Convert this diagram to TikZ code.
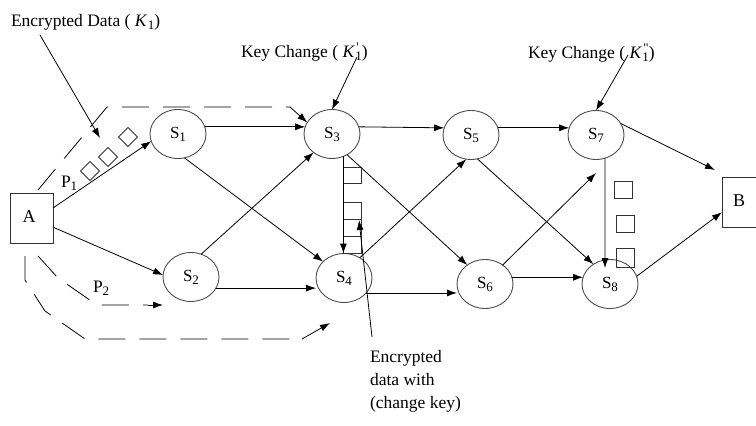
\documentclass[tikz,border=0pt]{standalone}
\usepackage{fontspec}
\setmainfont{Liberation Serif}
\usetikzlibrary{shapes.geometric,arrows.meta,calc}
\newcommand\subnum[1]{\raisebox{-0.4ex}{\fontsize{13}{13}\selectfont #1}}
\newcommand\Kone[1]{\textit{K}\kern0.5pt\raisebox{-0.4ex}{\fontsize{13}{13}\selectfont\rlap{\raisebox{1.45ex}{\kern1pt #1}}1}}
\begin{document}
\begin{tikzpicture}[x=1pt,y=-1pt,
  every node/.style={inner sep=0pt, outer sep=0pt},
  st/.style={ellipse, draw=black!70, line width=0.9pt, minimum width=56pt, minimum height=49pt, font=\fontsize{17}{18}\selectfont},
  endbox/.style={rectangle, draw=black!80, line width=0.9pt, font=\fontsize{18}{18}\selectfont},
  arr/.style={-{Latex[length=10pt,width=7pt]}, line width=0.8pt},
  dsh/.style={dash pattern=on 27pt off 14pt, line width=0.8pt},
  lbl/.style={font=\fontsize{17.5}{23}\selectfont},
  pkt/.style={draw=black!80, line width=0.8pt}
]
\useasboundingbox (0,0) rectangle (756,426);
\clip (0,0) rectangle (756,426);

% end boxes
\node[endbox, minimum width=43pt, minimum height=50pt] (a) at (31.5,218) {\raisebox{3pt}{A}\hspace*{5pt}};
\node[endbox, minimum width=40pt, minimum height=50pt, anchor=west] (b) at (722,202) {\raisebox{3pt}{B}\hspace*{6pt}};

% stations
\node[st] (s1) at (178,134) {S\subnum{1}};
\node[st] (s3) at (332,134) {S\subnum{3}};
\node[st] (s5) at (471,135) {S\subnum{5}};
\node[st] (s7) at (596,135) {S\subnum{7}};
\node[st] (s2) at (191,277) {S\subnum{2}};
\node[st] (s4) at (344,278) {S\subnum{4}};
\node[st] (s6) at (485,284) {S\subnum{6}};
\node[st] (s8) at (610,284) {S\subnum{8}};

% labels
\node[lbl, anchor=base west] (ed) at (11,26) {Encrypted Data ( \Kone{})};
\node[lbl, anchor=base west] (kc1) at (241,57) {Key Change ( \Kone{\textquotesingle})};
\node[lbl, anchor=base west] (kc2) at (528,58) {Key Change ( \Kone{\textquotedbl})};
\node[lbl, anchor=base west] (p1) at (61,187) {P\subnum{1}};
\node[lbl, anchor=base west] (p2) at (93,292) {P\subnum{2}};
\node[lbl, anchor=north west, align=left] (ck) at (370,350) {Encrypted\\data with\\(change key)};

% free ends
\coordinate (eds) at (40,35);
\coordinate (edt) at (100,138);
\coordinate (k1s) at (357,57);
\coordinate (k2s) at (628,55);
\coordinate (cks) at (372,337);
\coordinate (ckt) at (359,220);
\coordinate (e67) at (596,173);
\coordinate (e7b) at (715,170);
\coordinate (e78) at (605,268);

% packets along P1
\foreach \c in {(90,171),(108,157),(128,137)}
  \draw[pkt] \c ++(0,-9.5) -- ++(9.5,9.5) -- ++(-9.5,9.5) -- ++(-9.5,-9.5) -- cycle;
% packets S3-S4
\draw[pkt] (343,167) rectangle (361,183);
\draw[pkt] (343,202) rectangle (361,219);
\draw[pkt] (343,219) rectangle (361,236);
\draw[pkt] (343,236) rectangle (361,253);
% packets S7-S8
\draw[pkt] (614,181) rectangle (632,198);
\draw[pkt] (616,215) rectangle (634,232);
\draw[pkt] (616,248) rectangle (634,267);

% connectors
\draw[arr] (a.25) -- (s1.195);
\draw[arr] (a.-23) -- (s2.176);
\draw[arr] (s1.15) -- (s3.165);
\draw[arr] (s1.-75) -- (s4.142);
\draw[arr] (s2.66) -- (s3.225);
\draw[arr] (s2.-24) -- (s2.-24 -| s4.west);
\draw[arr] (s3.15) -- (s5.165);
\draw[arr] (s3.-54) -- (s6.133);
\draw[arr] (s3.-63) -- (s3.-63 |- s4.north);
\draw[arr] (s4.52) -- (s5.259);
\draw[arr] (s4.-34) -- (s4.-34 -| s6.west);
\draw[arr] (s5.15) -- (s7.165);
\draw[arr] (s5.-75) -- (s8.130);
\draw[arr] (s6.47) -- (e67);
\draw[arr] (s6.14) -- (s8.166);
\draw[arr] (s7.25) -- (e7b);
\draw[arr] (s8.16) -- (b.207);
\draw[arr] (s7.-69) -- (e78);

% annotation arrows
\draw[arr] (eds) -- (edt);
\draw[arr] (k1s) -- (s3.north);
\draw[arr] (k2s) -- (s7.north);
\draw[arr] (cks) -- (ckt);

% dashed routes
\coordinate (u0) at (38,190);
\coordinate (u1) at (107,107);
\coordinate (u2) at (290,107);
\draw[dsh] (u0) -- (u1) -- (u2);
\draw[arr] (u2) -- (s3.155);

\coordinate (m0) at (38,256);
\coordinate (m1) at (58,278);
\coordinate (m2) at (97,305);
\coordinate (m3) at (148,305);
\coordinate (m4) at (163,305);
\draw[dsh] (m0) -- (m1) -- (m2) -- (m3);
\draw[arr] (m3) -- (m4);

\coordinate (o0) at (25,256);
\coordinate (o1) at (25,280);
\coordinate (o2) at (45,311);
\coordinate (o3) at (85,339);
\coordinate (o4) at (302,339);
\coordinate (o5) at (330,323);
\draw[dsh] (o0) -- (o1) -- (o2) -- (o3) -- (o4);
\draw[arr] (o4) -- (o5);
\end{tikzpicture}
\end{document}
